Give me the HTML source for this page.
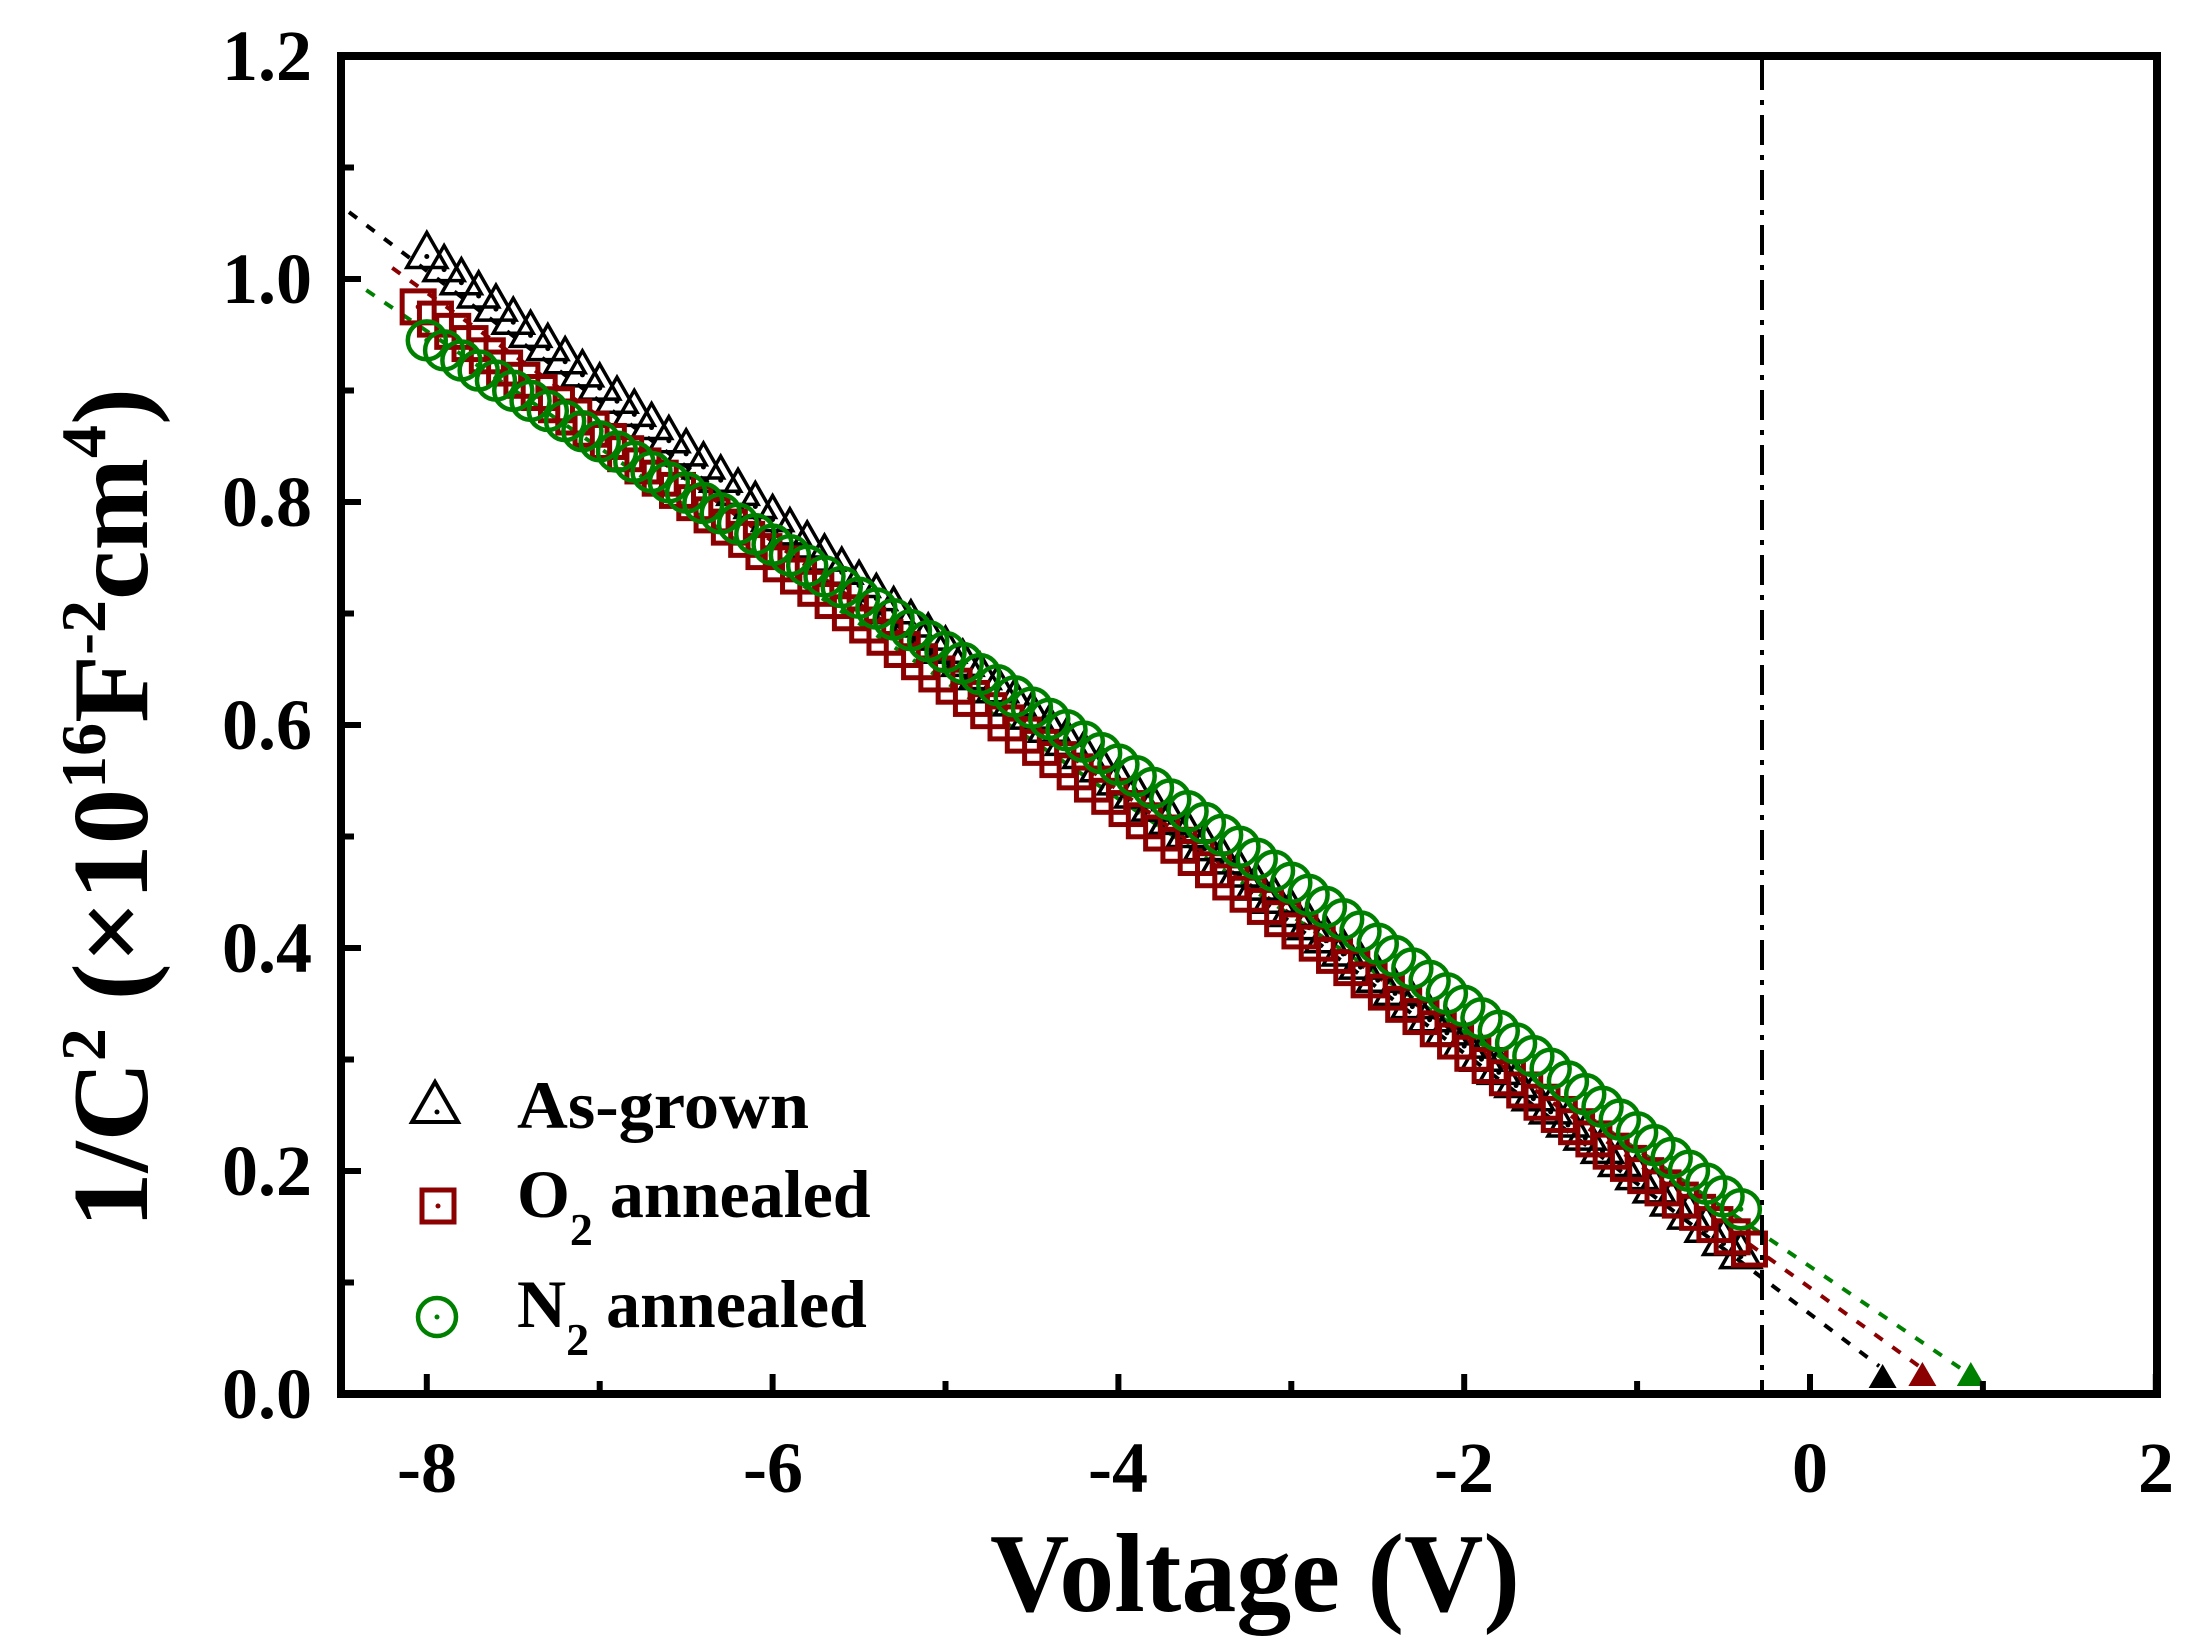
<!DOCTYPE html>
<html><head><meta charset="utf-8"><style>
html,body{margin:0;padding:0;background:#fff;}
svg{display:block;}
text{font-family:"Liberation Serif",serif;font-weight:bold;fill:#000;}
</style></head><body>
<svg id="s" width="2205" height="1643" viewBox="0 0 2205 1643" xmlns="http://www.w3.org/2000/svg">
<g id="data"></g>
<line x1="1762" y1="60" x2="1762" y2="1390" stroke="#000" stroke-width="4" stroke-dasharray="30,10,5,10"/>
<rect x="341" y="56" width="1816" height="1338" fill="none" stroke="#000" stroke-width="8"/>
<g id="ticks" stroke="#000" stroke-width="6"></g>
<g font-size="72" text-anchor="end">
<text x="312" y="1418">0.0</text>
<text x="312" y="1195">0.2</text>
<text x="312" y="972">0.4</text>
<text x="312" y="749">0.6</text>
<text x="312" y="526">0.8</text>
<text x="312" y="303">1.0</text>
<text x="312" y="80">1.2</text>
</g>
<g font-size="72" text-anchor="middle">
<text x="427" y="1492">-8</text>
<text x="773" y="1492">-6</text>
<text x="1118" y="1492">-4</text>
<text x="1464" y="1492">-2</text>
<text x="1810" y="1492">0</text>
<text x="2156" y="1492">2</text>
</g>
<text x="1255" y="1611" font-size="112" text-anchor="middle" textLength="530" lengthAdjust="spacingAndGlyphs">Voltage (V)</text>
<text transform="translate(147,1228) rotate(-90)" font-size="108" textLength="840" lengthAdjust="spacingAndGlyphs">1/C<tspan dy="-42" font-size="64">2</tspan><tspan dy="42"> (×10</tspan><tspan dy="-42" font-size="64">16</tspan><tspan dy="42">F</tspan><tspan dy="-42" font-size="64">-2</tspan><tspan dy="42">cm</tspan><tspan dy="-42" font-size="64">4</tspan><tspan dy="42">)</tspan></text>
<polygon points="435,1082 458,1122 412,1122" fill="none" stroke="#000" stroke-width="4"/>
<circle cx="437" cy="1112" r="2.5" fill="#000"/>
<rect x="422" y="1190" width="32" height="32" fill="none" stroke="#8b0000" stroke-width="5"/>
<circle cx="438" cy="1206" r="2.5" fill="#8b0000"/>
<circle cx="437" cy="1317" r="19" fill="none" stroke="#008000" stroke-width="4.5"/>
<circle cx="437" cy="1317" r="2.5" fill="#008000"/>
<g font-size="68">
<text x="517" y="1128" textLength="292" lengthAdjust="spacingAndGlyphs">As-grown</text>
<text x="517" y="1217">O<tspan dy="28" font-size="46">2</tspan><tspan dy="-28"> annealed</tspan></text>
<text x="517" y="1327">N<tspan dy="28" font-size="46">2</tspan><tspan dy="-28"> annealed</tspan></text>
</g>
</svg>
<script>
var NS="http://www.w3.org/2000/svg";
function X(v){return 1810+v*172.9;}
function Y(v){return 1394-v*1115;}
var d=document.getElementById('data'),t=document.getElementById('ticks');
function el(n,a,p){var e=document.createElementNS(NS,n);for(var k in a)e.setAttribute(k,a[k]);(p||d).appendChild(e);return e;}
for(var v=-8;v<=2;v+=1){var x=X(v);var L=(v%2==0)?16:9;el('line',{x1:x,y1:1390,x2:x,y2:1390-L},t);}
for(var i=0;i<=12;i++){var y=Y(i/10);var L=(i%2==0)?16:9;el('line',{x1:345,y1:y,x2:345+L,y2:y},t);}
el('line',{x1:X(-8.45),y1:Y(1.06),x2:X(0.40),y2:Y(0.025),stroke:'#000','stroke-width':4,'stroke-dasharray':'10,12'});
el('line',{x1:X(-8.2),y1:Y(1.01),x2:X(0.63),y2:Y(0.025),stroke:'#8b0000','stroke-width':4,'stroke-dasharray':'10,12'});
el('line',{x1:X(-8.35),y1:Y(0.99),x2:X(0.9),y2:Y(0.02),stroke:'#008000','stroke-width':4,'stroke-dasharray':'10,12'});
function tri(cx,cy,c){el('polygon',{points:(cx)+','+(cy-16)+' '+(cx+14)+','+(cy+8)+' '+(cx-14)+','+(cy+8),fill:c});}
tri(X(0.42),1380,'#000');tri(X(0.65),1378,'#8b0000');tri(X(0.93),1378,'#008000');
function lin(a,b,v){return a[1]+(b[1]-a[1])*(v-a[0])/(b[0]-a[0]);}
var A=[-8,1.022],A2=[-0.4,0.125];
for(var v=-8.0;v<=-0.39;v+=0.1){var x=X(v),y=Y(lin(A,A2,v));
el('polygon',{points:x+','+(y-22)+' '+(x+20)+','+(y+13)+' '+(x-20)+','+(y+13),fill:'none',stroke:'#000','stroke-width':3.5});
el('circle',{cx:x,cy:y+2,r:2.5,fill:'#000'});}
var O=[-8.05,0.975],O2=[-0.35,0.13];
for(var v=-8.05;v<=-0.34;v+=0.1){var x=X(v),y=Y(lin(O,O2,v));
el('rect',{x:x-16,y:y-16,width:32,height:32,fill:'none',stroke:'#8b0000','stroke-width':5});
el('circle',{cx:x,cy:y,r:2.5,fill:'#8b0000'});}
for(var v=-8.0;v<=-0.34;v+=0.1){var f=(v+8)/7.65;var val=0.945-0.785*f+0.03*Math.sin(Math.PI*f);var x=X(v),y=Y(val);
el('circle',{cx:x,cy:y,r:19,fill:'none',stroke:'#008000','stroke-width':4.5});
el('circle',{cx:x,cy:y,r:2.5,fill:'#008000'});}
</script>
</body></html>
